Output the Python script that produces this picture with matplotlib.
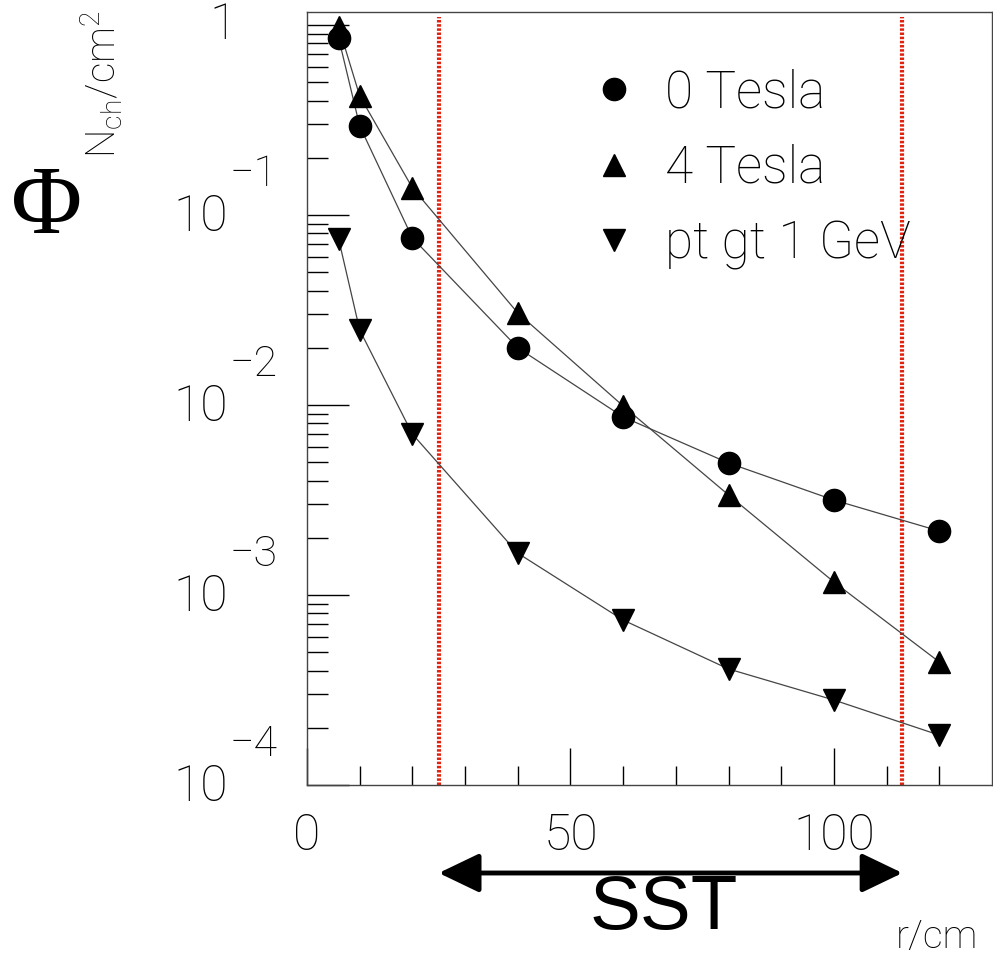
import numpy as np
import matplotlib.pyplot as plt
from matplotlib.lines import Line2D

# radius in cm
r = [6, 10, 20, 40, 60, 80, 100, 120]

# charged particle flux, N_ch / cm^2
flux_0T = [0.854, 0.294, 0.0757, 0.0200, 0.00865, 0.00495, 0.00316, 0.00217]
flux_4T = [0.98, 0.423, 0.139, 0.0305, 0.00988, 0.00336, 0.00117, 0.000444]
flux_pt1 = [0.0748, 0.0248, 0.00703, 0.00166, 0.000738, 0.000408, 0.000280, 0.000183]

labels = ["0 Tesla", "4 Tesla", "pt gt 1 GeV"]
markers = ["o", "^", "v"]

sst_edges = [25, 113]
decades = [-1, -2, -3, -4]

thin = "Roboto"
tw = "light"
plt.rcParams["mathtext.fontset"] = "custom"
plt.rcParams["mathtext.rm"] = "Roboto:light"

fig = plt.figure(figsize=(9.93, 9.6), dpi=100)
ax = fig.add_axes([307/993, 175/960, 685/993, 773/960])

for ys, m in zip([flux_0T, flux_4T, flux_pt1], markers):
    ax.plot(r, ys, "-", color="#444444", lw=0.9, zorder=2)
    ax.plot(r, ys, m, color="black", ms=16, mec="black", zorder=3, ls="none")

for xv in sst_edges:
    ax.plot([xv, xv], [1e-4, 1.1], color="#e0220e", lw=3.0,
            ls=(0, (0.6, 0.4)), zorder=1)

ax.set_yscale("log")
ax.set_xlim(0, 130)
ax.set_ylim(1e-4, 1.17)

for s in ax.spines.values():
    s.set_color("#444444")
    s.set_linewidth(1.0)

ax.set_xticks([0, 50, 100])
ax.set_xticks(np.arange(10, 130, 10), minor=True)
ax.set_xticklabels(["0", "50", "100"], fontsize=36, family=thin, weight=tw)
ax.tick_params(axis="x", which="major", direction="in", length=27, width=1, pad=20)
ax.tick_params(axis="x", which="minor", direction="in", length=14, width=1)
ax.tick_params(axis="y", which="major", direction="in", length=30, width=1)
ax.tick_params(axis="y", which="minor", direction="in", length=15, width=1)
ax.tick_params(axis="y", which="both", labelleft=False)
ax.tick_params(top=False, right=False)

# y tick labels in the 10^-n style
ytr = ax.get_yaxis_transform()
ax.annotate("1", xy=(0, 1.0), xycoords=ytr, xytext=(-70, 0),
            textcoords="offset pixels", ha="right", va="center",
            fontsize=36, family=thin, weight=tw)
for d in decades:
    ax.annotate("10", xy=(0, 10.0**d), xycoords=ytr, xytext=(-79, -2),
                textcoords="offset pixels", ha="right", va="center",
                fontsize=36, family=thin, weight=tw)
    ax.annotate("\u2212" + str(-d), xy=(0, 10.0**d), xycoords=ytr,
                xytext=(-77, 40), textcoords="offset pixels", ha="left",
                va="center", fontsize=31, family=thin, weight=tw)

handles = [Line2D([], [], marker=m, color="black", ls="none", ms=16) for m in markers]
fig.legend(handles, labels, loc="upper left", bbox_to_anchor=(588/993, 1 - 68/960),
           frameon=False, prop={"family": thin, "weight": tw, "size": 37},
           handlelength=1.0, handletextpad=0.5, borderpad=0, borderaxespad=0,
           labelspacing=0.5)

fig.text(47/993, 1 - 210/960, "\u03a6", fontsize=70, family="Liberation Serif",
         ha="center", va="center")
fig.text(102/993, 1 - 84/960, r"N$_{\mathrm{ch}}$/cm$^{2}$", fontsize=29,
         family=thin, weight=tw, rotation=90, ha="center", va="center")
fig.text(937/993, 1 - 937/960, "r/cm", fontsize=28, family=thin, weight=tw,
         ha="center", va="center")

ax.annotate("", xy=(sst_edges[1], 87), xytext=(sst_edges[0], 87),
            xycoords=("data", "figure pixels"), textcoords=("data", "figure pixels"),
            arrowprops=dict(arrowstyle="<|-|>,head_length=2.5,head_width=1.2",
                            mutation_scale=10, lw=3.5, color="black",
                            shrinkA=0, shrinkB=0),
            annotation_clip=False)

fig.text(664/993, 1 - 910/960, "SST", fontsize=55, family="Liberation Sans",
         ha="center", va="center")

fig.savefig("out.png", dpi=100)
